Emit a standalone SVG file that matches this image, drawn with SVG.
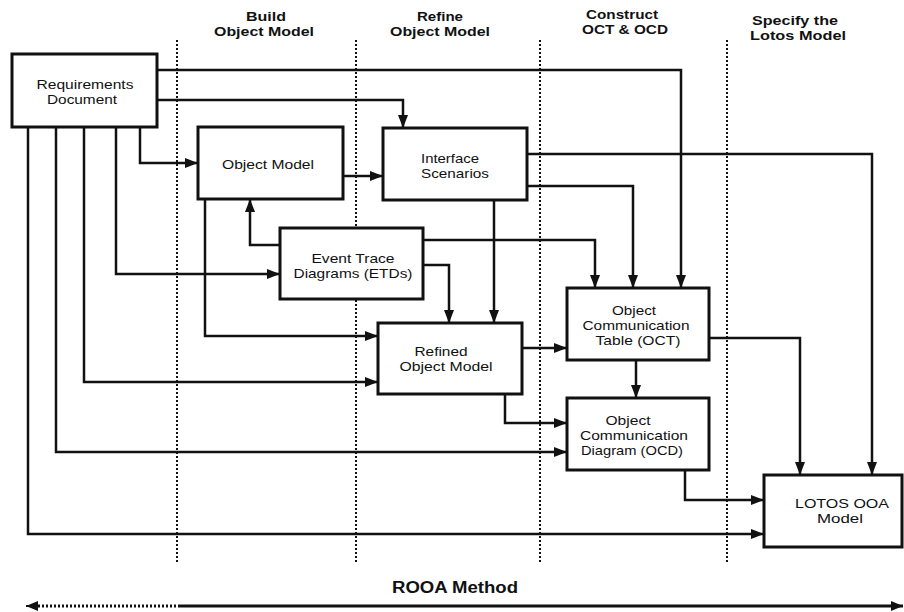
<svg xmlns="http://www.w3.org/2000/svg" width="904" height="612" viewBox="0 0 904 612">
<style>
.box{fill:#fff;stroke:#111;stroke-width:3}
.t{font-family:"Liberation Sans",Arial,sans-serif;font-size:13px;fill:#111;text-anchor:middle}
.h{font-family:"Liberation Sans",Arial,sans-serif;font-size:13px;font-weight:bold;fill:#111;text-anchor:middle}
.m{font-family:"Liberation Sans",Arial,sans-serif;font-size:16px;font-weight:bold;fill:#111;text-anchor:middle}
.c{fill:none;stroke:#111;stroke-width:2.5;marker-end:url(#ah)}
.sep{stroke:#111;stroke-width:2;stroke-dasharray:2,2}
</style>
<defs>
<marker id="ah" markerUnits="userSpaceOnUse" markerWidth="13" markerHeight="10" refX="13" refY="5" orient="auto">
<path d="M0,0 L13,5 L0,10 z" fill="#111"/>
</marker>
<marker id="ahs" markerUnits="userSpaceOnUse" markerWidth="12" markerHeight="10" refX="12" refY="5" orient="auto-start-reverse">
<path d="M0,0 L12,5 L0,10 z" fill="#111"/>
</marker>
</defs>
<rect width="904" height="612" fill="#fff"/>
<g id="lanes">
<line class="sep" x1="177" y1="40" x2="177" y2="564"/>
<line class="sep" x1="356" y1="40" x2="356" y2="564"/>
<line class="sep" x1="540" y1="40" x2="540" y2="564"/>
<line class="sep" x1="727" y1="40" x2="727" y2="564"/>
</g>
<g id="headers">
<text class="h" x="266" y="21" textLength="40" lengthAdjust="spacingAndGlyphs">Build</text>
<text class="h" x="264" y="36" textLength="100" lengthAdjust="spacingAndGlyphs">Object Model</text>
<text class="h" x="440" y="21" textLength="46" lengthAdjust="spacingAndGlyphs">Refine</text>
<text class="h" x="440" y="36" textLength="100" lengthAdjust="spacingAndGlyphs">Object Model</text>
<text class="h" x="622" y="19" textLength="72" lengthAdjust="spacingAndGlyphs">Construct</text>
<text class="h" x="625" y="34" textLength="86" lengthAdjust="spacingAndGlyphs">OCT &amp; OCD</text>
<text class="h" x="795" y="25" textLength="86" lengthAdjust="spacingAndGlyphs">Specify the</text>
<text class="h" x="798" y="40" textLength="96" lengthAdjust="spacingAndGlyphs">Lotos Model</text>
</g>
<g id="connectors">
<path class="c" d="M157,70 H681 V288"/>
<path class="c" d="M157,100 H403 V128"/>
<path class="c" d="M140,127 V163 H198"/>
<path class="c" d="M116,127 V274 H280"/>
<path class="c" d="M84,127 V382 H378"/>
<path class="c" d="M56,127 V452 H567"/>
<path class="c" d="M28,127 V534 H764"/>
<path class="c" d="M205,199 V336 H378"/>
<path class="c" d="M343,176 H383"/>
<path class="c" d="M280,245 H250 V199"/>
<path class="c" d="M423,240 H595 V288"/>
<path class="c" d="M423,265 H449 V323"/>
<path class="c" d="M494,200 V323"/>
<path class="c" d="M527,154 H872 V475"/>
<path class="c" d="M527,186 H633 V288"/>
<path class="c" d="M522,348 H567"/>
<path class="c" d="M505,394 V423 H567"/>
<path class="c" d="M636,360 V398"/>
<path class="c" d="M709,338 H800 V475"/>
<path class="c" d="M685,470 V500 H764"/>
</g>
<g id="req">
<rect class="box" x="12" y="54" width="145" height="73"/>
<text class="t" x="85" y="89" textLength="97" lengthAdjust="spacingAndGlyphs">Requirements</text>
<text class="t" x="82" y="104" textLength="70" lengthAdjust="spacingAndGlyphs">Document</text>
</g>
<g id="objmodel">
<rect class="box" x="198" y="127" width="145" height="72"/>
<text class="t" x="268" y="169" textLength="92" lengthAdjust="spacingAndGlyphs">Object Model</text>
</g>
<g id="iface">
<rect class="box" x="383" y="128" width="144" height="72"/>
<text class="t" x="450" y="163" textLength="58" lengthAdjust="spacingAndGlyphs">Interface</text>
<text class="t" x="455" y="178" textLength="68" lengthAdjust="spacingAndGlyphs">Scenarios</text>
</g>
<g id="etd">
<rect class="box" x="280" y="228" width="143" height="71"/>
<text class="t" x="353" y="263" textLength="83" lengthAdjust="spacingAndGlyphs">Event Trace</text>
<text class="t" x="353" y="278" textLength="119" lengthAdjust="spacingAndGlyphs">Diagrams (ETDs)</text>
</g>
<g id="refined">
<rect class="box" x="378" y="323" width="144" height="71"/>
<text class="t" x="441" y="356" textLength="53" lengthAdjust="spacingAndGlyphs">Refined</text>
<text class="t" x="446" y="371" textLength="93" lengthAdjust="spacingAndGlyphs">Object Model</text>
</g>
<g id="oct">
<rect class="box" x="567" y="288" width="142" height="72"/>
<text class="t" x="634" y="315" textLength="44" lengthAdjust="spacingAndGlyphs">Object</text>
<text class="t" x="636" y="330" textLength="107" lengthAdjust="spacingAndGlyphs">Communication</text>
<text class="t" x="638" y="345" textLength="85" lengthAdjust="spacingAndGlyphs">Table (OCT)</text>
</g>
<g id="ocd">
<rect class="box" x="567" y="398" width="142" height="72"/>
<text class="t" x="628" y="425" textLength="45" lengthAdjust="spacingAndGlyphs">Object</text>
<text class="t" x="634" y="440" textLength="108" lengthAdjust="spacingAndGlyphs">Communication</text>
<text class="t" x="632" y="455" textLength="102" lengthAdjust="spacingAndGlyphs">Diagram (OCD)</text>
</g>
<g id="lotos">
<rect class="box" x="764" y="475" width="138" height="72"/>
<text class="t" x="842" y="508" textLength="94" lengthAdjust="spacingAndGlyphs">LOTOS OOA</text>
<text class="t" x="840" y="523" textLength="46" lengthAdjust="spacingAndGlyphs">Model</text>
</g>
<g id="method">
<text class="m" x="455" y="593" textLength="126" lengthAdjust="spacingAndGlyphs">ROOA Method</text>
<line x1="38" y1="606" x2="178" y2="606" stroke="#111" stroke-width="3" stroke-dasharray="2,2"/>
<line x1="26" y1="606" x2="40" y2="606" stroke="#111" stroke-width="2" marker-start="url(#ahs)"/>
<line x1="178" y1="606" x2="903" y2="606" stroke="#111" stroke-width="3" marker-end="url(#ahs)"/>
</g>
</svg>
